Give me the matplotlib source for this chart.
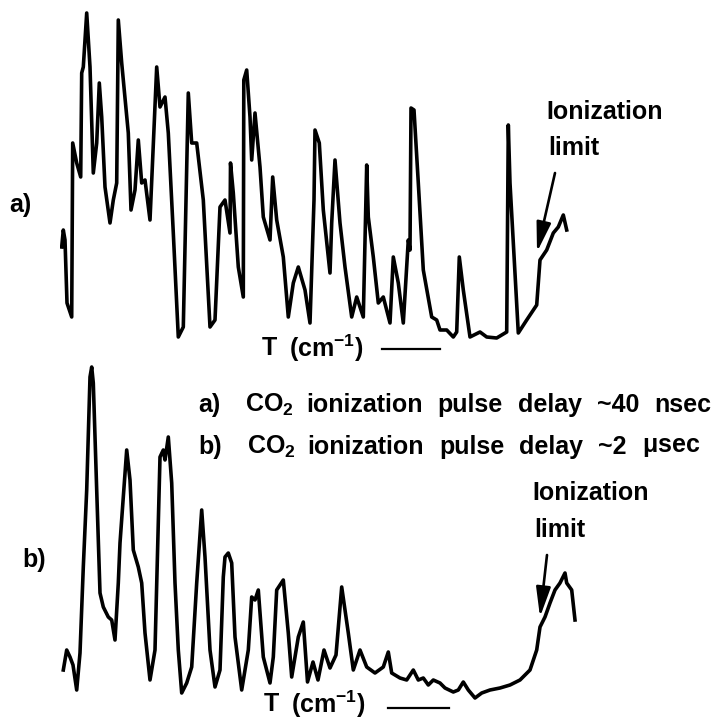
import numpy as np
import matplotlib.pyplot as plt

plt.rcParams['font.family'] = ['Liberation Sans', 'DejaVu Sans']
plt.rcParams['font.weight'] = 'bold'
plt.rcParams['mathtext.fontset'] = 'custom'
plt.rcParams['mathtext.rm'] = 'Liberation Sans:bold'
plt.rcParams['mathtext.it'] = 'Liberation Sans:bold'
plt.rcParams['mathtext.bf'] = 'Liberation Sans:bold'
plt.rcParams['mathtext.default'] = 'rm'

# Spectrum a): ~40 nsec delay (scan position, ion signal in arb. units)
scan_a = [1.7, 3.3, 5, 7, 11.7, 12.7, 16.7, 20.7, 21.7, 23.3, 26.7, 30, 33.3, 36.7,
          39.3, 41.7, 45, 50, 53.3, 56.7, 58.3, 61.7, 68.3, 71, 75, 78.3, 81.7, 85,
          90, 96.7, 100, 105, 108.3, 113.3, 118.3, 123.3, 128.3, 131.7, 136.7, 143.3,
          150, 155, 160, 165, 170, 170.5, 173.3, 178.3, 183.3, 183.8, 186.7, 190,
          191.7, 195, 200, 203.3, 210, 212.7, 216.7, 223.3, 228.3, 233.3, 238.3, 245,
          250, 254, 255, 259.3, 263.3, 270, 271.7, 275, 280, 285, 291.7, 296.7, 303.3,
          306.7, 308.3, 313.3, 318.3, 323.3, 330, 333.3, 338.3, 343.3, 348.3, 350,
          351, 354, 358.3, 363.3, 371.7, 376.7, 380, 386.7, 393.3, 396.7, 399.3, 403.3,
          410, 420, 426.7, 436.7, 446.7, 448.3, 450, 458.3, 466.7, 476.7, 480, 486.7,
          493.3, 498.3, 503.3, 506.7]
signal_a = [98, 115, 105, 42, 28, 202, 182, 168, 272, 278, 332, 278, 172, 202,
            262, 228, 158, 122, 145, 162, 325, 282, 212, 135, 155, 205, 162, 165,
            125, 278, 238, 248, 212, 112, 8, 18, 252, 202, 202, 145,
            18, 25, 138, 145, 112, 182, 152, 78, 48, 265, 275, 228,
            185, 232, 178, 128, 105, 168, 125, 88, 28, 62, 78, 55,
            22, 145, 215, 202, 135, 72, 122, 185, 122, 78, 28, 48, 28,
            180, 128, 88, 42, 48, 22, 88, 62, 22, 105, 95,
            237, 235, 162, 75, 28, 25, 15, 15, 8, 13, 88, 55,
            8, 13, 8, 7, 13, 220, 162, 12, 25, 40, 85, 95,
            112, 118, 130, 115]

# Spectrum b): ~2 usec delay
scan_b = [3.3, 6.7, 10, 13, 16.7, 20, 23.3, 26.7, 30, 31.7, 33.3, 36.7, 40, 43.3,
          48.3, 51.7, 55, 58.3, 60, 63.3, 66.7, 70, 73.3, 78.3, 81.7, 85, 90, 95,
          100, 103.3, 105, 108.3, 111.7, 115, 118.3, 121.7, 126.7, 131.7, 136.7,
          141.7, 145, 150, 155, 160, 163.3, 165, 168.3, 171.7, 175, 181.7, 188.3,
          191.7, 195, 198.3, 203.3, 210, 213.3, 216.7, 223.3, 228.3, 231.7, 238.3,
          243.3, 247.5, 253, 258, 264, 270, 276, 281.7, 288.3, 293.3, 300, 306.7,
          315, 323.3, 328.3, 331.7, 340, 346.7, 353.3, 358.3, 363.3, 368.3, 373.3,
          380, 385, 393.3, 398.3, 403.3, 408.3, 415, 421.7, 430, 440, 450, 460, 470,
          476.7, 480, 485, 490, 495, 500, 505, 506.7, 511.7, 515]
signal_b = [30, 50, 43, 35, 10, 47, 133, 210, 323, 333, 317, 210, 107, 93,
            83, 80, 60, 117, 157, 203, 250, 220, 150, 133, 117, 67, 20, 50,
            243, 250, 240, 263, 217, 117, 50, 7, 17, 33, 117,
            190, 143, 50, 13, 30, 123, 143, 147, 137, 63, 10, 50,
            103, 100, 110, 43, 17, 43, 110, 120, 67, 23, 63,
            78, 18, 38, 20, 50, 32, 45, 113, 67, 30, 50, 33,
            27, 33, 48, 27, 22, 20, 30, 20, 22, 15, 20,
            17, 12, 8, 10, 18, 10, 2, 7, 10, 12, 15, 20, 30,
            50, 73, 83, 97, 110, 117, 127, 117, 110, 80]

caption_a = ['a)', r'CO$_2$', 'ionization', 'pulse', 'delay', '~40', 'nsec']
caption_b = ['b)', r'CO$_2$', 'ionization', 'pulse', 'delay', '~2', r'$\mu$sec']
axis_label = ['T', r'(cm$^{-1}$)']

W, H = 727, 720
FS = 18
fig = plt.figure(figsize=(W / 100, H / 100), dpi=100)
renderer = fig.canvas.get_renderer()


def px_box(x0, y0, x1, y1):
    """Figure-fraction rectangle from pixel corners (top-left origin)."""
    return [x0 / W, 1 - y1 / H, (x1 - x0) / W, (y1 - y0) / H]


def ftext(x, y, s, **kw):
    return fig.text(x / W, 1 - y / H, s, fontsize=FS, fontweight='bold',
                    va='center', ha='left', **kw)


def word_row(words, x, y, gaps):
    """Lay words left to right, each as its own text, with given pixel gaps."""
    for w, g in zip(words, gaps + [0]):
        t = ftext(x, y, w)
        x = t.get_window_extent(renderer).x1 + g
    return x


ax_a = fig.add_axes(px_box(60, 0, 590, 345))
ax_b = fig.add_axes(px_box(60, 355, 590, 700))

for ax, x, y in [(ax_a, scan_a, signal_a), (ax_b, scan_b, signal_b)]:
    ax.plot(x, y, color='black', lw=2.6, solid_joinstyle='round')
    ax.set_xlim(0, 530)
    ax.set_ylim(0, 345)
    ax.axis('off')

arrow = dict(arrowstyle='-|>,head_length=0.9,head_width=0.22', color='black',
             lw=1.9, shrinkA=0, shrinkB=0, mutation_scale=20)
ax_a.annotate('', xy=(477, 93), xytext=(495, 172), arrowprops=arrow)
ax_b.annotate('', xy=(480, 83), xytext=(487, 145), arrowprops=arrow)

# panel labels
ftext(9, 205, 'a)')
ftext(22, 560, 'b)')

# ionization limit notes
ftext(546, 112, 'Ionization')
ftext(548, 148, 'limit')
ftext(532, 493, 'Ionization')
ftext(534, 530, 'limit')

# wavenumber axis labels with scale bars
word_row(axis_label, 262, 348, [12])
word_row(axis_label, 264, 704, [12])
for y, x0, x1 in [(349, 382, 440), (708, 388, 449)]:
    fig.add_artist(plt.Line2D([x0 / W, x1 / W], [1 - y / H, 1 - y / H],
                              color='black', lw=1.6))

# caption
word_row(caption_a, 198, 405, [25, 12, 15, 15, 15, 15])
word_row(caption_b, 198, 447, [25, 12, 15, 15, 15, 15])

fig.savefig('out.png', dpi=100)
